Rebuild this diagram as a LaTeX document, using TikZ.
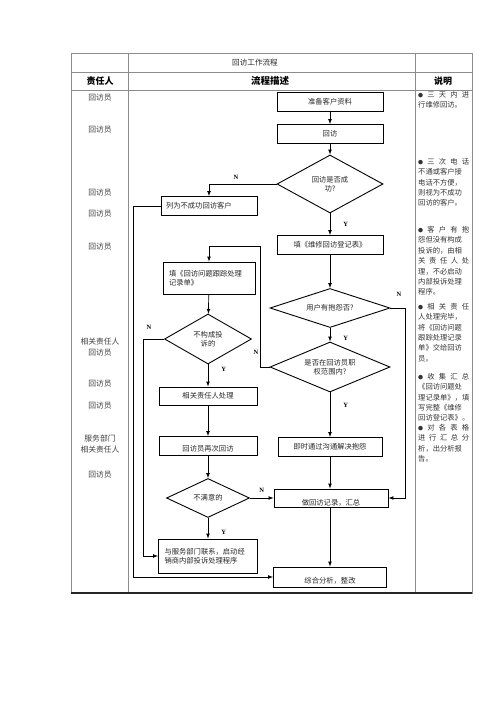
\documentclass[tikz,border=0pt]{standalone}
\usepackage{fontspec}
\setmainfont{Noto Sans CJK SC}
\newfontfamily\yesno{Liberation Serif}
\usetikzlibrary{shapes.geometric,calc}
\newcommand\boxfont{\fontsize{7.3}{9.5}\selectfont}
\newcommand\notefont{\fontsize{7.3}{10.4}\selectfont}
\newcommand\notedot{{\fontsize{5}{5}\selectfont ●}}

\begin{document}
\begin{tikzpicture}[x=1pt,y=-1pt,>=latex,
  box/.style={draw, line width=.9pt, minimum height=19pt, inner sep=2pt, font=\boxfont, text=black!85},
  dec/.style={draw, diamond, aspect=2, line width=.9pt, inner sep=0pt, font=\boxfont, align=center, text=black!85},
  yn/.style={font=\yesno\bfseries\fontsize{6.5}{7}\selectfont, inner sep=1pt},
  who/.style={font=\fontsize{7.8}{11}\selectfont, text=black!75, align=center},
  note/.style={anchor=north west, text width=51pt, align=justify, font=\notefont, text=black!80, inner sep=0pt},
  tabline/.style={draw=black!45, line width=.8pt},
  flow/.style={->, line width=.7pt}]
  \useasboundingbox (0,0) rectangle (500,707);

  % table frame
  \draw[tabline] (71,53) rectangle (472,593);
  \draw[tabline] (128,53) -- (128,593) (415,53) -- (415,593) (71,72) -- (472,72) (71,90) -- (472,90);
  \draw[line width=2pt, black!85] (71,593) -- (472,593);

  \node[font=\fontsize{7.6}{8}\selectfont, text=black!85] (title) at (255,62.5) {回访工作流程};
  \node[font=\bfseries\fontsize{9}{10}\selectfont] (hwho) at (100,81) {责任人};
  \node[font=\bfseries\fontsize{9.5}{10}\selectfont] (hflow) at (270,81) {流程描述};
  \node[font=\bfseries\fontsize{9}{10}\selectfont] (hnote) at (443,81) {说明};

  % who column
  \foreach \y [count=\i] in {98,130,193,214,247,384,406,475}
    \node[who] (who\i) at (100,\y) {回访员};
  \node[who] (who9) at (100,347) {相关责任人\\回访员};
  \node[who] (who10) at (100,444) {服务部门\\相关责任人};

  % right branch
  \node[box, minimum width=106pt] (prep) at (330,102) {准备客户资料};
  \node[box, minimum width=106pt] (visit) at (330,134) {回访};
  \node[dec, minimum width=106pt, minimum height=58pt] (ok) at (330,184) {回访是否成\\功?};
  \node[box, text width=86pt, inner xsep=5pt, align=left] (fail) at (209,206) {列为不成功回访客户};
  \node[box, minimum width=106pt] (reg) at (330,245) {填《维修回访登记表》};
  \node[dec, minimum width=120pt, minimum height=39pt] (moan) at (330,308) {用户有抱怨否?};
  \node[dec, minimum width=120pt, minimum height=50pt] (scope) at (330,367) {是否在回访员职\\权范围内?};
  \node[box, minimum width=104pt] (solve) at (330,447) {即时通过沟通解决抱怨};
  \node[box, minimum width=114pt, minimum height=18pt] (rec) at (331,498) {\raisebox{-5pt}[\height][\depth]{做回访记录，汇总}};
  \node[box, minimum width=113pt, minimum height=20pt] (sum) at (330,577) {\raisebox{-4pt}[\height][\depth]{综合分析，整改}};

  % left branch
  \node[box, text width=80pt, inner xsep=6pt, minimum height=32pt, align=left] (track) at (209,278) {填《回访问题跟踪处理\\记录单》};
  \node[dec, minimum width=87pt, minimum height=50pt] (cmpl) at (208,339) {不构成投\\诉的};
  \node[box, minimum width=98pt, minimum height=18pt] (handle) at (208,396) {相关责任人处理};
  \node[box, minimum width=98pt] (again) at (208,446) {\raisebox{-3pt}[\height][\depth]{回访员再次回访}};
  \node[dec, minimum width=83pt, minimum height=39pt] (unsat) at (208,498) {不满意的};
  \node[box, text width=87pt, inner xsep=6pt, minimum height=34pt, align=left] (dealer) at (208,556) {与服务部门联系，启动经\\销商内部投诉处理程序};

  \coordinate (rbend) at (405,498);
  \coordinate (lbend) at (260,246);
  \coordinate (nbend) at (143,556);
  \coordinate (fbend) at (133,577);

  \draw[flow] (prep) -- (visit);
  \draw[flow] (visit) -- (ok);
  \draw[flow] (ok.west) -| (fail.north) node[yn, pos=.3, above=3pt] (l1) {N};
  \draw[flow] (ok) -- (reg) node[yn, midway, right=12pt] (l2) {Y};
  \draw[flow] (reg) -- (moan);
  \draw[flow] (moan) -- (scope) node[yn, pos=.8, right=12pt] (l3) {Y};
  \draw[flow] (moan.east) -| (rbend) -- (rec.east);
  \node[yn] (l4) at (399,294) {N};
  \draw[flow] (scope.west) -| (lbend) -| (track.north);
  \node[yn] (l5) at (256,352) {N};
  \draw[flow] (scope) -- (solve) node[yn, pos=.3, right=12pt] (l6) {Y};
  \draw[flow] (solve.south) -- (solve.south |- rec.north);
  \draw[flow] (rec.south -| sum.north) -- (sum.north);
  \draw[flow] (track) -- (cmpl);
  \draw[flow] (cmpl.west) -| (nbend) -- (dealer.west);
  \node[yn] (l7) at (149,327) {N};
  \draw[flow] (cmpl) -- (handle) node[yn, pos=.2, right=12pt] (l8) {Y};
  \draw[flow] (handle) -- (again);
  \draw[flow] (again) -- (unsat);
  \draw[flow] (unsat.east) -- (rec.west) node[yn, midway, above=4pt] (l9) {N};
  \draw[flow] (unsat) -- (dealer) node[yn, pos=.7, right=12pt] (l10) {Y};
  \draw[flow] (fail.west) -| (fbend) -- (sum.west);

  % notes column
  \node[note] (n1) at (418,91) {\notedot\ 三 天 内 进\linebreak 行维修回访。};
  \node[note] (n2) at (418,158) {\notedot\ 三 次 电 话\linebreak 不通或客户接\linebreak 电话不方便，\linebreak 则视为不成功\linebreak 回访的客户。};
  \node[note] (n3) at (418,226) {\notedot\ 客 户 有 抱\linebreak 怨但没有构成\linebreak 投诉的，由相\linebreak 关 责 任 人 处\linebreak 理，不必启动\linebreak 内部投诉处理\linebreak 程序。};
  \node[note] (n4) at (418,303) {\notedot\ 相 关 责 任\linebreak 人处理完毕，\linebreak 将《回访问题\linebreak 跟踪处理记录\linebreak 单》交给回访\linebreak 员。};
  \node[note] (n5) at (418,373) {\notedot\ 收 集 汇 总\linebreak 《回访问题处\linebreak 理记录单》，填\linebreak 写完整《维修\linebreak 回访登记表》。};
  \node[note] (n6) at (418,424) {\notedot\ 对 各 表 格\linebreak 进 行 汇 总 分\linebreak 析，出分析报\linebreak 告。};
\end{tikzpicture}
\end{document}
